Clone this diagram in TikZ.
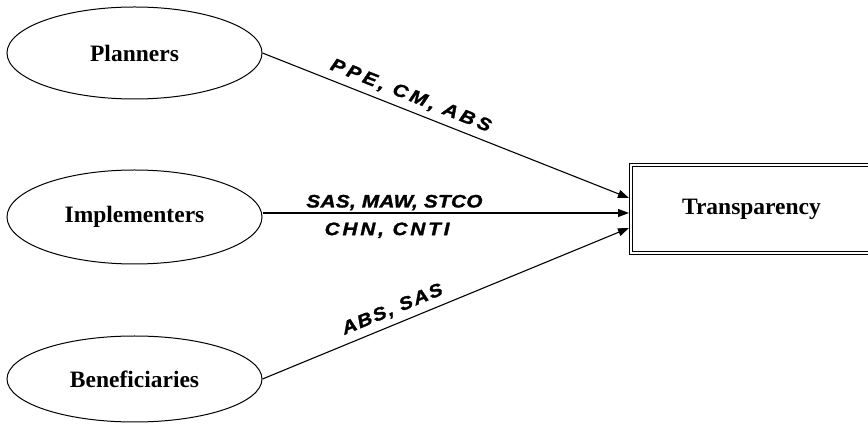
\documentclass[tikz,border=0pt]{standalone}
\usepackage{fontspec}
\setmainfont{Liberation Serif}
\newfontfamily\lblfont[FakeStretch=1.15,FakeBold=1.6]{Liberation Sans}
\usetikzlibrary{shapes.geometric,arrows.meta}
\begin{document}
\begin{tikzpicture}[x=1pt,y=-1pt,
  actor/.style={ellipse,draw,line width=1pt,minimum width=255pt,inner sep=0pt,
    font=\fontsize{23.5}{26}\selectfont\bfseries},
  target/.style={draw,double,double distance=1.6pt,line width=1.1pt,
    minimum width=241pt,minimum height=88pt,inner sep=0pt,
    font=\fontsize{23.5}{26}\selectfont\bfseries},
  link/.style={line width=1.1pt,-{Triangle[length=11pt,width=8pt]}},
  lbl/.style={font=\lblfont\fontsize{18}{18}\selectfont\bfseries\itshape,
    inner sep=0pt,text depth=0pt}]
\useasboundingbox (0,0) rectangle (868,427);
\clip (0,0) rectangle (868,427);

% stakeholder groups
\node[actor,minimum height=92pt] (pl) at (134.5,53)  {Planners};
\node[actor,minimum height=94pt] (im) at (134.5,217) {Implementers};
\node[actor,minimum height=86pt] (be) at (134.5,379) {Beneficiaries};

% outcome box (runs off the right edge)
\node[target] (tr) at (751.5,209) {Transparency};

% arrow end points on the left side of the box
\coordinate (t1) at (629,198);
\coordinate (t2) at (629,213);
\coordinate (t3) at (629,228);

\draw[link] (pl.east) -- node[lbl,sloped,above=9pt,pos=0.39]
  {\addfontfeature{LetterSpace=19}PPE, CM, ABS} (t1);
\draw[link] (im.east |- t2) --
  node[lbl,above=5pt,pos=0.36] {\addfontfeature{LetterSpace=2}SAS, MAW, STCO}
  node[lbl,below=9pt,pos=0.34] {\addfontfeature{LetterSpace=16}CHN, CNTI} (t2);
\draw[link] (be.east) -- node[lbl,sloped,above=9pt,pos=0.37]
  {\addfontfeature{LetterSpace=9}ABS, SAS} (t3);
\end{tikzpicture}
\end{document}
